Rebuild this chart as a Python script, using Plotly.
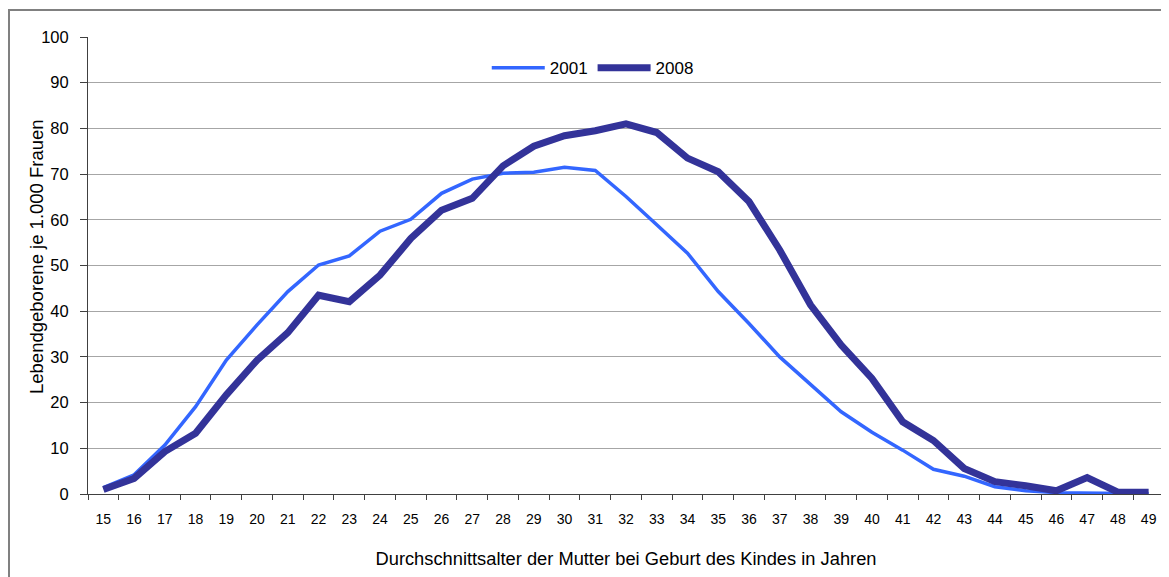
import plotly.graph_objects as go

ages = [str(a) for a in range(15, 50)]
rate_2001 = [1.4, 4.2, 10.7, 19.1, 29.3, 37.0, 44.3, 50.1, 52.1, 57.5, 60.1, 65.8, 68.9,
             70.2, 70.4, 71.5, 70.8, 65.1, 58.9, 52.7, 44.3, 37.3, 30.0, 23.9, 18.0,
             13.5, 9.6, 5.4, 3.9, 1.6, 0.7, 0.3, 0.2, 0.05, 0.05]
rate_2008 = [1.0, 3.4, 9.3, 13.3, 21.7, 29.3, 35.3, 43.5, 42.1, 47.9, 55.9, 62.1, 64.7,
             71.8, 76.1, 78.4, 79.5, 81.0, 79.1, 73.5, 70.5, 64.0, 53.4, 41.4, 32.6,
             25.3, 15.8, 11.7, 5.6, 2.7, 1.8, 0.7, 3.6, 0.4, 0.4]
series_names = ["2001", "2008"]
y_ticks = list(range(0, 101, 10))
y_title = "Lebendgeborene je 1.000 Frauen"
x_title = "Durchschnittsalter der Mutter bei Geburt des Kindes in Jahren"

FONT = "Liberation Sans, Arial, sans-serif"

# page body has an 8px margin; figure sized to fit the remaining window
W, H = 1161, 569
L, R, T, B = 80, 5, 29, 83
PW, PH = W - L - R, H - T - B

fig = go.Figure()
fig.add_trace(go.Scatter(x=ages, y=rate_2001, name=series_names[0], mode="lines",
                         line=dict(color="#3366FF", width=3.5)))
fig.add_trace(go.Scatter(x=ages, y=rate_2008, name=series_names[1], mode="lines",
                         line=dict(color="#333399", width=7)))

fig.update_layout(
    width=W, height=H,
    margin=dict(l=L, r=R, t=T, b=B, autoexpand=False),
    paper_bgcolor="white", plot_bgcolor="white",
    font=dict(family=FONT, color="#000000"),
    showlegend=True,
    legend=dict(orientation="h", x=0.3706, xanchor="left", y=0.932, yanchor="middle",
                font=dict(size=17, family=FONT), bgcolor="rgba(0,0,0,0)",
                itemwidth=53, tracegroupgap=0, traceorder="normal"),
    xaxis=dict(type="category", tickson="boundaries", ticks="outside", ticklen=5,
               tickcolor="#404040", showline=True, linecolor="#404040", linewidth=1,
               showgrid=False, tickfont=dict(size=14, family=FONT),
               ticklabelstandoff=12,
               title=dict(text=x_title, font=dict(size=18.3, family=FONT), standoff=26),
               range=[-0.5, 34.5]),
    yaxis=dict(range=[0, 100], tickvals=y_ticks, ticks="outside", ticklen=7,
               tickcolor="#404040", showline=True, linecolor="#404040", linewidth=1,
               showgrid=True, gridcolor="#A6A6A6", gridwidth=1,
               tickfont=dict(size=16.5, family=FONT), zeroline=False,
               ticklabelstandoff=8),
    annotations=[dict(text=y_title, textangle=-90, xref="paper", yref="paper",
                      x=(29 - L) / PW, y=(PH + T - 249) / PH,
                      xanchor="center", yanchor="middle", showarrow=False,
                      font=dict(size=18.5, family=FONT, color="#000000"))],
    shapes=[dict(type="rect", xref="paper", yref="paper",
                 x0=(1 - L) / PW, x1=(1158 - L) / PW,
                 y0=-0.4, y1=(PH + T - 2) / PH,
                 line=dict(color="#808080", width=2), fillcolor="rgba(0,0,0,0)",
                 layer="below")],
)

fig.write_html("out.html")
